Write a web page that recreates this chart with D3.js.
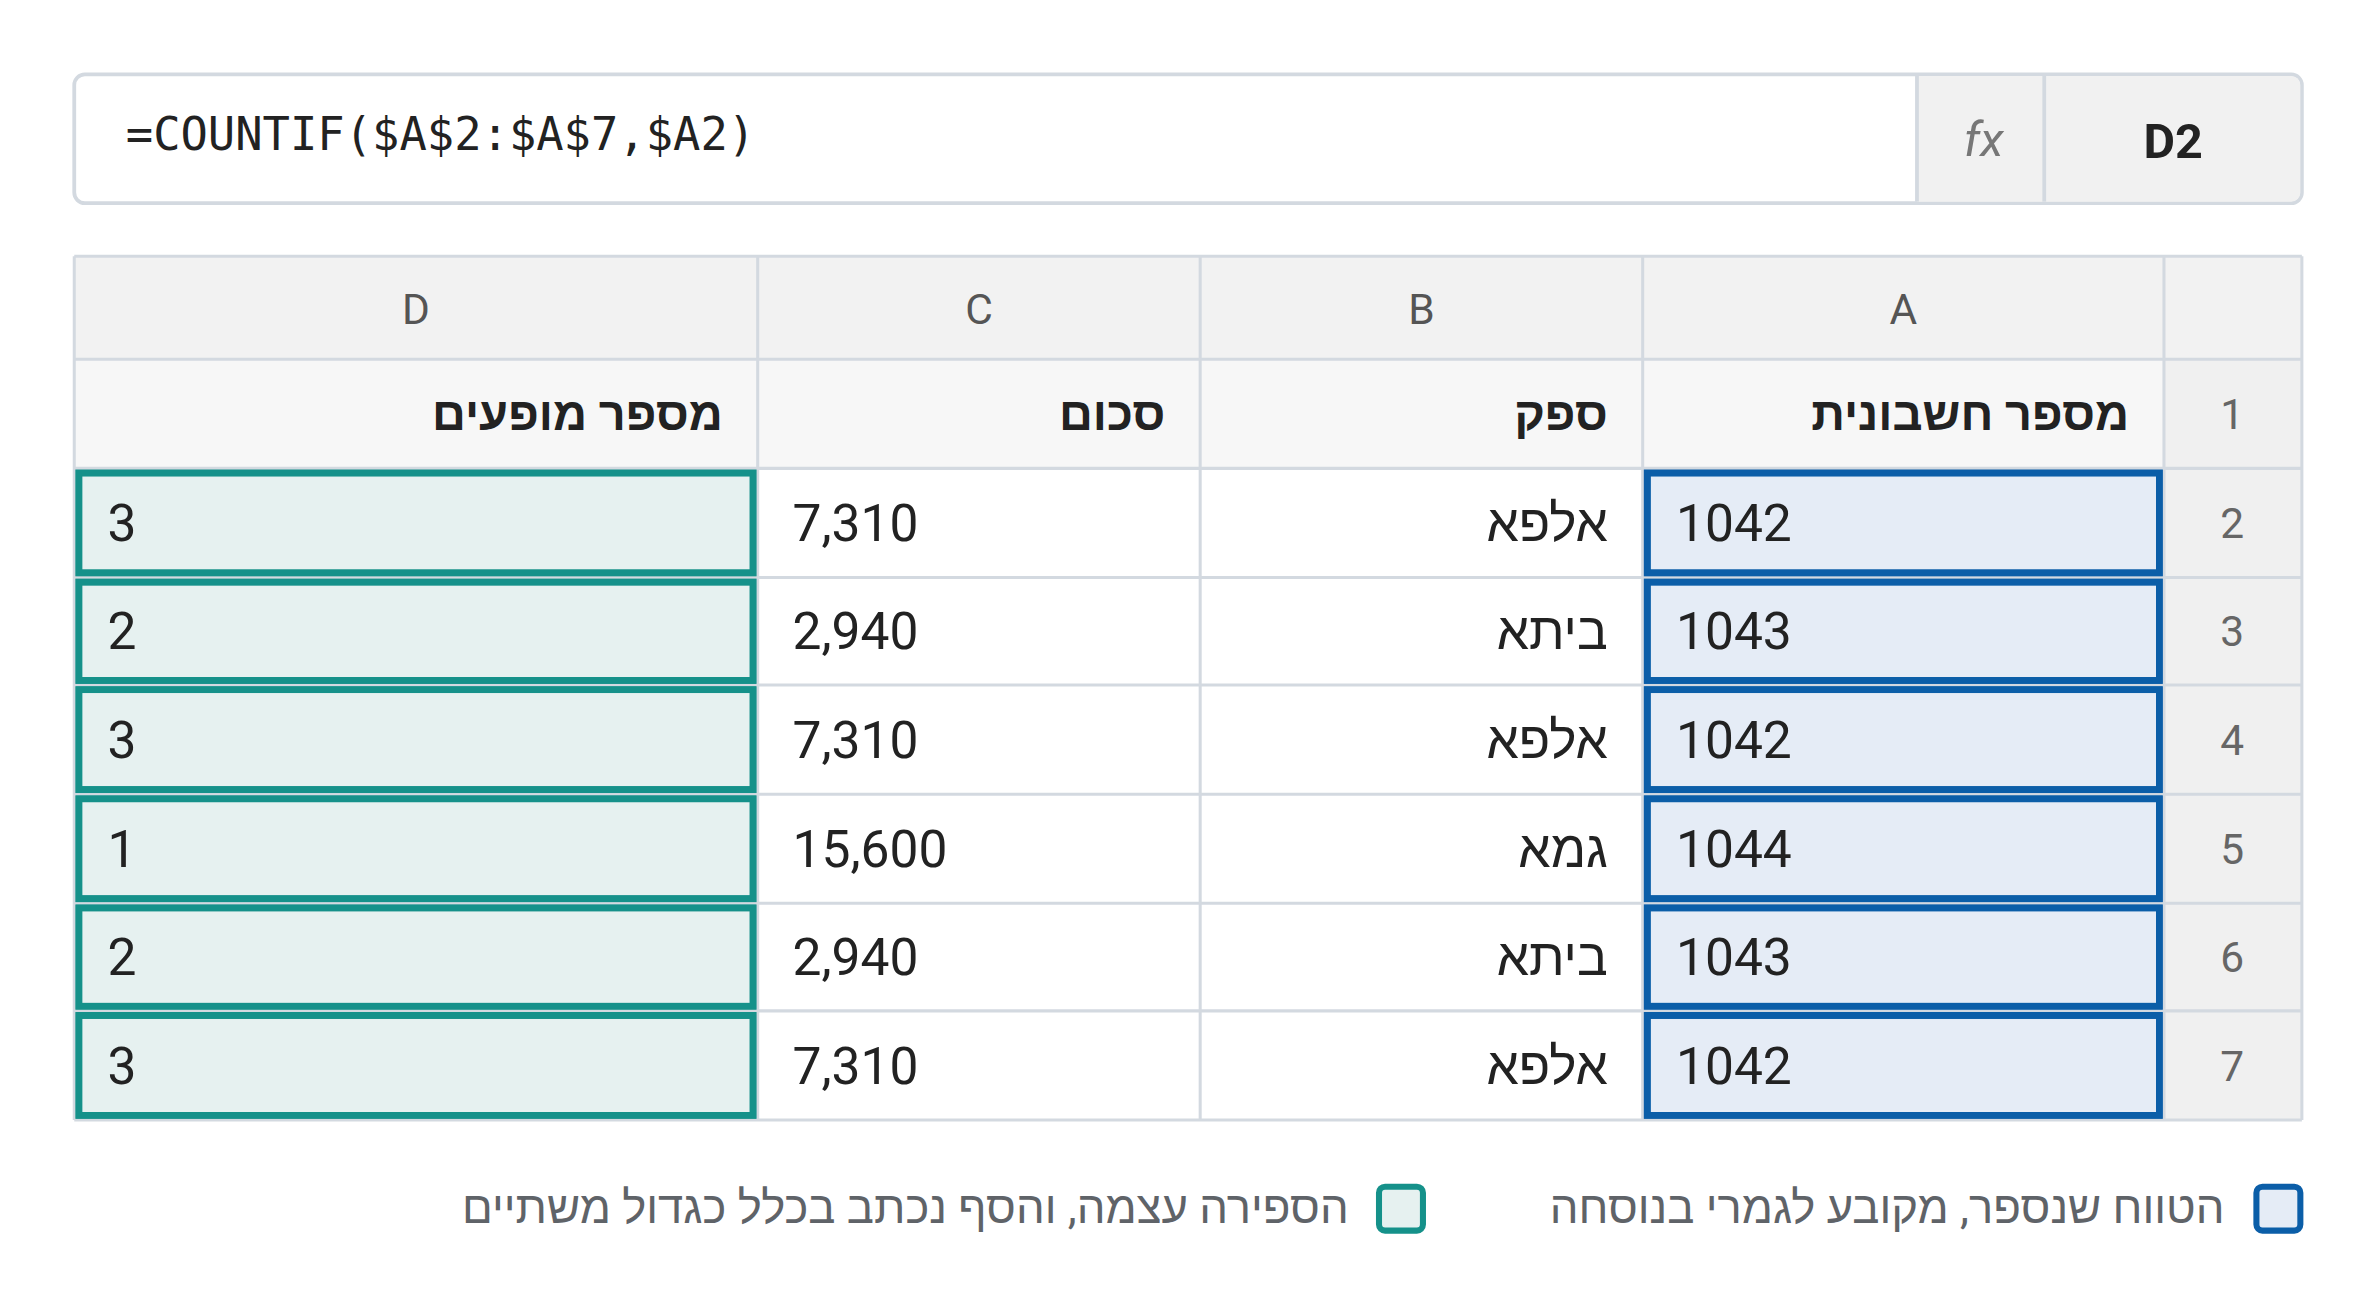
<!DOCTYPE html>
<html><head><meta charset="utf-8">
<script src="https://cdn.jsdelivr.net/npm/d3@7"></script>
<style>html,body{margin:0;padding:0;background:#fff;}</style>
</head><body>
<svg id="c" width="2364" height="1308" viewBox="0 0 1560 863"></svg>
<script>
const formula = "=COUNTIF($A$2:$A$7,$A2)";
const cellName = "D2";
const columns = ["D","C","B","A",""];
const headers = ["מספר מופעים","סכום","ספק","מספר חשבונית"];
const rowNums = ["1","2","3","4","5","6","7"];
const colA = ["1042","1043","1042","1044","1043","1042"];
const colB = ["אלפא","ביתא","אלפא","גמא","ביתא","אלפא"];
const colC = [7310,2940,7310,15600,2940,7310];
const colD = [3,2,3,1,2,3];
const legend = ["הטווח שנספר, מקובע לגמרי בנוסחה","הספירה עצמה, והסף נכתב בכלל כגדול משתיים"];

const svg = d3.select("#c");
const font = "Roboto, 'Noto Sans', sans-serif";
const border = "#d3d9e0";

// formula bar
svg.append("rect").attr("x",49).attr("y",49).attr("width",1470).attr("height",85).attr("rx",7)
  .attr("fill","#fff").attr("stroke",border).attr("stroke-width",2.5);
svg.append("path").attr("d","M1265,50 H1349 V133 H1265 Z").attr("fill","#f1f1f1");
svg.append("path").attr("d","M1349,50 H1512 A6,6 0 0 1 1518,56 V127 A6,6 0 0 1 1512,133 H1349 Z").attr("fill","#f1f1f1");
[1265,1349].forEach(x=>svg.append("line").attr("x1",x).attr("x2",x).attr("y1",50).attr("y2",133).attr("stroke",border).attr("stroke-width",2.5));
svg.append("text").attr("x",83).attr("y",99).attr("font-family","'DejaVu Sans Mono','Liberation Mono',monospace")
  .attr("font-size",30).attr("fill","#222").text(formula);
svg.append("text").attr("x",1309).attr("y",103).attr("text-anchor","middle").attr("font-family",font)
  .attr("font-style","italic").attr("font-size",32).attr("fill","#777").text("fx");
svg.append("text").attr("x",1434).attr("y",104).attr("text-anchor","middle").attr("font-family",font)
  .attr("font-weight","bold").attr("font-size",32).attr("fill","#222").text(cellName);

// grid
const colEdges = [49,500,792,1084,1428,1519];
const rowEdges = [169,237,309,381,452,524,596,667,739];
const x = i=>colEdges[i], w = i=>colEdges[i+1]-colEdges[i];
const y = r=>rowEdges[r], h = r=>rowEdges[r+1]-rowEdges[r];

svg.append("rect").attr("x",49).attr("y",169).attr("width",1470).attr("height",570).attr("fill","#fff");
// header row
svg.append("rect").attr("x",49).attr("y",169).attr("width",1470).attr("height",68).attr("fill","#f2f2f2");
svg.append("rect").attr("x",49).attr("y",237).attr("width",1379).attr("height",72).attr("fill","#f7f7f7");
svg.append("rect").attr("x",1428).attr("y",237).attr("width",91).attr("height",502).attr("fill","#f0f0f0");

// data cell fills (A and D)
colA.forEach((v,i)=>{
  const r=i+2;
  svg.append("rect").attr("x",x(3)+3).attr("y",y(r)+3).attr("width",w(3)-6).attr("height",h(r)-6)
    .attr("fill","#e5ecf6").attr("stroke","#0b5ea8").attr("stroke-width",4.5);
  svg.append("rect").attr("x",x(0)+3).attr("y",y(r)+3).attr("width",w(0)-6).attr("height",h(r)-6)
    .attr("fill","#e6f1f0").attr("stroke","#15918a").attr("stroke-width",4.5);
});

// grid lines
const gl = svg.append("g").attr("stroke",border).attr("stroke-width",2);
colEdges.forEach(cx=>gl.append("line").attr("x1",cx).attr("x2",cx).attr("y1",169).attr("y2",739));
rowEdges.forEach(ry=>gl.append("line").attr("x1",49).attr("x2",1519).attr("y1",ry).attr("y2",ry));
// redraw highlighted borders above grid
colA.forEach((v,i)=>{
  const r=i+2;
  svg.append("rect").attr("x",x(3)+3).attr("y",y(r)+3).attr("width",w(3)-6).attr("height",h(r)-6)
    .attr("fill","none").attr("stroke","#0b5ea8").attr("stroke-width",4.5);
  svg.append("rect").attr("x",x(0)+3).attr("y",y(r)+3).attr("width",w(0)-6).attr("height",h(r)-6)
    .attr("fill","none").attr("stroke","#15918a").attr("stroke-width",4.5);
});

// column letters
columns.forEach((c,i)=>svg.append("text").attr("x",x(i)+w(i)/2).attr("y",214).attr("text-anchor","middle")
  .attr("font-family",font).attr("font-size",28).attr("fill","#555").text(c));
// row numbers
rowNums.forEach((n,i)=>svg.append("text").attr("x",1473).attr("y",y(i+1)+h(i+1)/2+10).attr("text-anchor","middle")
  .attr("font-family",font).attr("font-size",28).attr("fill","#666").text(n));
// headers
headers.forEach((t,i)=>svg.append("text").attr("x",x(i+1)-23).attr("y",284).attr("direction","rtl").attr("text-anchor","start")
  .attr("font-family",font).attr("font-weight","bold").attr("font-size",31).attr("fill","#222").text(t));
// data
const fmt = d3.format(",");
colA.forEach((v,i)=>{
  const r=i+2, cy=y(r)+h(r)/2+12;
  const t=(xx,s,anchor,dir)=>svg.append("text").attr("x",xx).attr("y",cy).attr("text-anchor",anchor)
    .attr("direction",dir||"ltr").attr("font-family",font).attr("font-size",34).attr("fill","#222").text(s);
  t(x(3)+22,v,"start");
  t(x(3)-23,colB[i],"start","rtl");
  t(x(1)+23,fmt(colC[i]),"start");
  t(x(0)+22,colD[i],"start");
});

// legend
const lg=[{bx:1487,tx:1468,fill:"#e5ecf6",stroke:"#0b5ea8"},{bx:908,tx:890,fill:"#e6f1f0",stroke:"#15918a"}];
lg.forEach((d,i)=>{
  svg.append("rect").attr("x",d.bx+2).attr("y",783).attr("width",29).attr("height",29).attr("rx",4)
    .attr("fill",d.fill).attr("stroke",d.stroke).attr("stroke-width",4);
  svg.append("text").attr("x",d.tx).attr("y",807).attr("direction","rtl").attr("text-anchor","start")
    .attr("font-family",font).attr("font-size",30).attr("fill","#5f6368").text(legend[i]);
});
</script>
</body></html>
